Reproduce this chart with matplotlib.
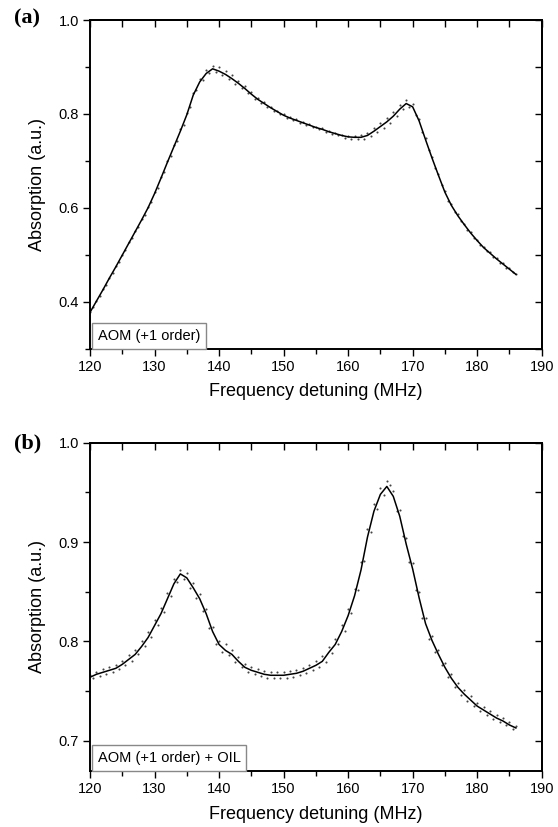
import numpy as np
import matplotlib
matplotlib.use("Agg")
import matplotlib.pyplot as plt
from matplotlib.ticker import MultipleLocator

plt.rcParams['font.family'] = ['Liberation Sans', 'DejaVu Sans']

# ---------------- Panel (a): AOM (+1 order) ----------------
freq_a_fit = list(range(120, 187))
abs_a_fit = [0.377, 0.401, 0.425, 0.450, 0.474, 0.499, 0.524, 0.549, 0.574, 0.600,
             0.630, 0.663, 0.697, 0.730, 0.763, 0.798, 0.840, 0.868, 0.886, 0.896,
             0.891, 0.884, 0.875, 0.865, 0.854, 0.842, 0.831, 0.822, 0.813, 0.805,
             0.797, 0.791, 0.786, 0.781, 0.776, 0.771, 0.767, 0.762, 0.758, 0.754,
             0.751, 0.750, 0.750, 0.754, 0.763, 0.773, 0.783, 0.795, 0.810, 0.822,
             0.815, 0.785, 0.745, 0.706, 0.669, 0.633, 0.605, 0.583, 0.564, 0.546,
             0.530, 0.515, 0.503, 0.491, 0.480, 0.469, 0.458]

freq_a_pts = [120 + 0.5 * i for i in range(133)]
abs_a_pts = [0.378, 0.388, 0.402, 0.412, 0.426, 0.436, 0.451, 0.461, 0.476, 0.485,
             0.500, 0.510, 0.526, 0.535, 0.551, 0.559, 0.576, 0.585, 0.602, 0.613,
             0.633, 0.643, 0.666, 0.677, 0.700, 0.710, 0.734, 0.743, 0.767, 0.777,
             0.802, 0.815, 0.845, 0.851, 0.874, 0.872, 0.893, 0.886, 0.903, 0.889,
             0.899, 0.882, 0.892, 0.874, 0.882, 0.864, 0.871, 0.855, 0.859, 0.844,
             0.846, 0.832, 0.834, 0.823, 0.825, 0.814, 0.815, 0.807, 0.807, 0.799,
             0.799, 0.792, 0.793, 0.786, 0.788, 0.781, 0.783, 0.776, 0.778, 0.771,
             0.773, 0.767, 0.769, 0.762, 0.764, 0.758, 0.760, 0.754, 0.756, 0.749,
             0.753, 0.746, 0.753, 0.746, 0.754, 0.747, 0.760, 0.752, 0.770, 0.761,
             0.781, 0.770, 0.792, 0.781, 0.803, 0.795, 0.818, 0.810, 0.829, 0.814,
             0.821, 0.797, 0.790, 0.762, 0.749, 0.723, 0.709, 0.685, 0.672, 0.648,
             0.636, 0.615, 0.608, 0.591, 0.586, 0.571, 0.566, 0.553, 0.548, 0.536,
             0.532, 0.520, 0.517, 0.507, 0.505, 0.495, 0.493, 0.483, 0.482, 0.472,
             0.471, 0.462, 0.459]

# ---------------- Panel (b): AOM (+1 order) + OIL ----------------
freq_b_fit = list(range(120, 187))
abs_b_fit = [0.764, 0.767, 0.769, 0.771, 0.773, 0.777, 0.782, 0.787, 0.795, 0.804,
             0.816, 0.828, 0.843, 0.858, 0.868, 0.864, 0.854, 0.843, 0.828, 0.810,
             0.797, 0.791, 0.787, 0.780, 0.774, 0.771, 0.769, 0.767, 0.766, 0.766,
             0.766, 0.767, 0.768, 0.770, 0.773, 0.776, 0.780, 0.789, 0.797, 0.810,
             0.826, 0.846, 0.872, 0.905, 0.931, 0.948, 0.956, 0.946, 0.926, 0.898,
             0.873, 0.844, 0.818, 0.801, 0.787, 0.774, 0.763, 0.754, 0.747, 0.741,
             0.735, 0.731, 0.727, 0.723, 0.720, 0.716, 0.713]

freq_b_pts = [120 + 0.5 * i for i in range(133)]
abs_b_pts = [0.766, 0.763, 0.769, 0.765, 0.772, 0.767, 0.774, 0.769, 0.776, 0.772,
             0.780, 0.776, 0.786, 0.780, 0.791, 0.787, 0.800, 0.795, 0.810, 0.805,
             0.822, 0.817, 0.834, 0.830, 0.849, 0.846, 0.863, 0.860, 0.872, 0.863,
             0.869, 0.854, 0.859, 0.844, 0.848, 0.831, 0.833, 0.814, 0.815, 0.797,
             0.800, 0.789, 0.797, 0.786, 0.791, 0.779, 0.784, 0.774, 0.777, 0.769,
             0.774, 0.767, 0.772, 0.765, 0.770, 0.763, 0.769, 0.763, 0.769, 0.763,
             0.769, 0.763, 0.770, 0.764, 0.771, 0.766, 0.773, 0.768, 0.776, 0.771,
             0.780, 0.774, 0.785, 0.779, 0.794, 0.788, 0.803, 0.797, 0.817, 0.811,
             0.833, 0.829, 0.853, 0.852, 0.880, 0.881, 0.913, 0.910, 0.938, 0.933,
             0.954, 0.947, 0.961, 0.957, 0.951, 0.931, 0.932, 0.906, 0.904, 0.880,
             0.879, 0.852, 0.850, 0.824, 0.824, 0.803, 0.806, 0.789, 0.791, 0.776,
             0.778, 0.764, 0.767, 0.754, 0.758, 0.746, 0.751, 0.740, 0.745, 0.735,
             0.738, 0.730, 0.734, 0.726, 0.730, 0.722, 0.726, 0.719, 0.723, 0.716,
             0.719, 0.712, 0.715]

panel_labels = ["(a)", "(b)"]
legend_texts = ["AOM (+1 order)", "AOM (+1 order) + OIL"]
xlabel = "Frequency detuning (MHz)"
ylabel = "Absorption (a.u.)"
x_ticks = [120, 130, 140, 150, 160, 170, 180, 190]
y_ticks_a = [0.4, 0.6, 0.8, 1.0]
y_ticks_b = [0.7, 0.8, 0.9, 1.0]

W, H = 558, 827
fig = plt.figure(figsize=(W / 100, H / 100), dpi=100)

ax_a = fig.add_axes([90 / W, 1 - 348.5 / H, 451.7 / W, 328.5 / H])
ax_b = fig.add_axes([90 / W, 1 - 770.7 / H, 451.7 / W, 328.0 / H])

configs = [
    (ax_a, freq_a_fit, abs_a_fit, freq_a_pts, abs_a_pts, (0.3, 1.0), y_ticks_a, 0.1, "%.1f"),
    (ax_b, freq_b_fit, abs_b_fit, freq_b_pts, abs_b_pts, (0.67, 1.0), y_ticks_b, 0.05, "%.1f"),
]

for i, (ax, fx, fy, px, py, ylim, yt, yminor, fmt) in enumerate(configs):
    ax.plot(px, py, linestyle='none', marker='o', markersize=1.5,
            markerfacecolor='#444444', markeredgecolor='none', zorder=2)
    ax.plot(fx, fy, color='black', linewidth=1.1, zorder=3)
    ax.set_xlim(120, 190)
    ax.set_ylim(*ylim)
    ax.set_xticks(x_ticks)
    ax.xaxis.set_minor_locator(MultipleLocator(5))
    ax.set_yticks(yt)
    ax.yaxis.set_minor_locator(MultipleLocator(yminor))
    ax.set_yticklabels([fmt % v for v in yt])
    ax.tick_params(axis='both', which='both', direction='out', labelsize=10.5,
                   top=False, right=False, width=1.0, color='black')
    ax.tick_params(axis='both', which='major', length=5, pad=3)
    ax.tick_params(axis='both', which='minor', length=3.5)
    for s in ax.spines.values():
        s.set_linewidth(1.4)
    # mirrored ticks pointing inward on top/right
    top = ax.secondary_xaxis('top')
    top.set_xticks(x_ticks)
    top.xaxis.set_minor_locator(MultipleLocator(5))
    top.tick_params(which='both', direction='in', length=5, labeltop=False, width=1.0)
    top.spines['top'].set_linewidth(1.4)
    right = ax.secondary_yaxis('right')
    right.set_yticks(yt)
    right.yaxis.set_minor_locator(MultipleLocator(yminor))
    right.tick_params(which='both', direction='in', length=5, labelright=False, width=1.0)
    right.spines['right'].set_linewidth(1.4)

    ax.set_xlabel(xlabel, fontsize=13, labelpad=7)
    ax.set_ylabel(ylabel, fontsize=13, labelpad=9)
    ax.text(0.017, 0.017, legend_texts[i], transform=ax.transAxes, fontsize=10.5,
            ha='left', va='bottom',
            bbox=dict(boxstyle='square,pad=0.4', facecolor='white',
                      edgecolor='#888888', linewidth=1.0))

fig.text(14 / W, 1 - 18 / H, panel_labels[0], fontsize=16, fontweight='bold',
         family=['Liberation Serif', 'DejaVu Serif'], ha='left', va='center')
fig.text(14 / W, 1 - 443 / H, panel_labels[1], fontsize=16, fontweight='bold',
         family=['Liberation Serif', 'DejaVu Serif'], ha='left', va='center')

fig.savefig("out.png", dpi=100, facecolor='white')
